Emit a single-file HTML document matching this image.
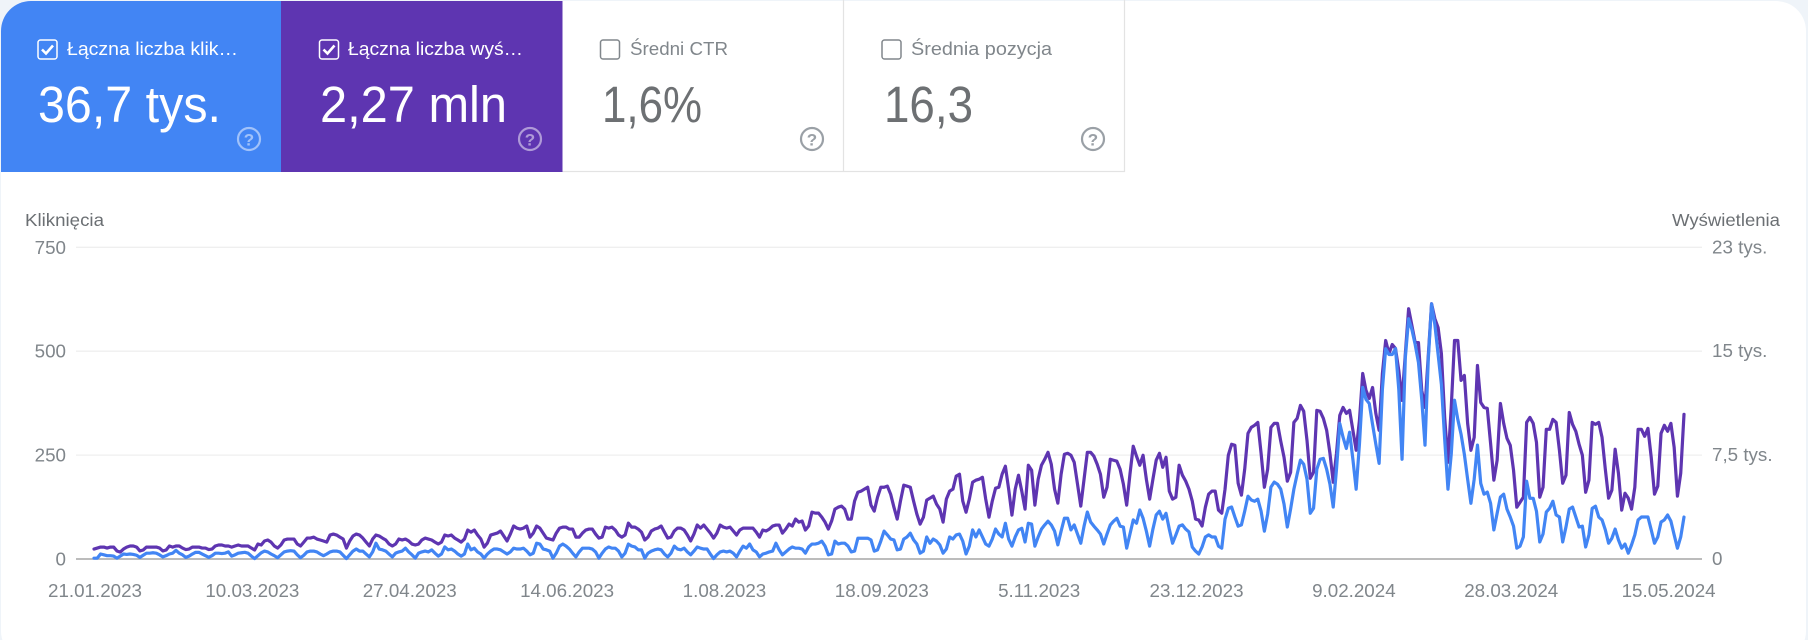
<!DOCTYPE html>
<html lang="pl">
<head>
<meta charset="utf-8">
<title>Skuteczność w wyszukiwarce</title>
<style>
html,body{margin:0;padding:0;width:1808px;height:640px;overflow:hidden;background:#eff4f9;}
svg{display:block;position:absolute;left:0;top:0;}
text{font-family:"Liberation Sans",sans-serif;}
.tick{font-size:18.8px;fill:#80868b;}
.title{font-size:17.5px;fill:#6b6f73;}
.lab{font-size:18px;}
.val{font-size:51px;}
</style>
</head>
<body>
<svg id="chart" width="1808" height="640" viewBox="0 0 1808 640" xmlns="http://www.w3.org/2000/svg">
  <rect x="1" y="1" width="1805" height="660" rx="30" ry="30" fill="#ffffff"/>

  <g>
    <path d="M1 172V31A30 30 0 0 1 31 1H281V172Z" fill="#4285f4"/>
    <rect x="38" y="40" width="19" height="19" rx="2.5" fill="none" stroke="#fff" stroke-width="1.5"/>
    <path d="M42 49.5l4 4 7-8" fill="none" stroke="#fff" stroke-width="2.6"/>
    <text class="lab" x="67" y="55" fill="#fff" textLength="171" lengthAdjust="spacingAndGlyphs">Łączna liczba klik…</text>
    <text class="val" x="38" y="122" fill="#fff" textLength="183" lengthAdjust="spacingAndGlyphs">36,7 tys.</text>
    <circle cx="249" cy="139" r="11" fill="none" stroke="#fff" stroke-opacity=".5" stroke-width="2.2"/>
    <text x="249" y="145.500" text-anchor="middle" font-size="17" font-weight="bold" fill="#fff" fill-opacity=".5">?</text>
  </g>

  <g>
    <rect x="281" y="1" width="281.5" height="171" fill="#5e35b1"/>
    <rect x="319.5" y="40" width="19" height="19" rx="2.5" fill="none" stroke="#fff" stroke-width="1.5"/>
    <path d="M323.5 49.5l4 4 7-8" fill="none" stroke="#fff" stroke-width="2.6"/>
    <text class="lab" x="348" y="55" fill="#fff" textLength="175" lengthAdjust="spacingAndGlyphs">Łączna liczba wyś…</text>
    <text class="val" x="320" y="122" fill="#fff" textLength="187" lengthAdjust="spacingAndGlyphs">2,27 mln</text>
    <circle cx="530" cy="139" r="11" fill="none" stroke="#fff" stroke-opacity=".5" stroke-width="2.2"/>
    <text x="530" y="145.500" text-anchor="middle" font-size="17" font-weight="bold" fill="#fff" fill-opacity=".5">?</text>
  </g>

  <g>
    <rect x="600.5" y="40" width="19" height="19" rx="2.5" fill="none" stroke="#80868b" stroke-width="1.5"/>
    <text class="lab" x="630" y="55" fill="#80868b" textLength="98" lengthAdjust="spacingAndGlyphs">Średni CTR</text>
    <text class="val" x="602" y="122" fill="#6d7073" textLength="100" lengthAdjust="spacingAndGlyphs">1,6%</text>
    <circle cx="812" cy="139" r="11" fill="none" stroke="#9aa0a6" stroke-width="2.2"/>
    <text x="812" y="145.500" text-anchor="middle" font-size="17" font-weight="bold" fill="#9aa0a6">?</text>
  </g>

  <g>
    <rect x="882" y="40" width="19" height="19" rx="2.5" fill="none" stroke="#80868b" stroke-width="1.5"/>
    <text class="lab" x="911" y="55" fill="#80868b" textLength="141" lengthAdjust="spacingAndGlyphs">Średnia pozycja</text>
    <text class="val" x="884" y="122" fill="#6d7073" textLength="89" lengthAdjust="spacingAndGlyphs">16,3</text>
    <circle cx="1093" cy="139" r="11" fill="none" stroke="#9aa0a6" stroke-width="2.2"/>
    <text x="1093" y="145.500" text-anchor="middle" font-size="17" font-weight="bold" fill="#9aa0a6">?</text>
  </g>
  <path d="M562.5 171.5H1124.5V0M843.5 0V171.5" fill="none" stroke="#e3e3e3" stroke-width="1.2"/>

  <text class="title" x="25" y="226" textLength="79" lengthAdjust="spacingAndGlyphs">Kliknięcia</text>
  <text class="title" x="1672" y="226" textLength="108" lengthAdjust="spacingAndGlyphs">Wyświetlenia</text>

  <g id="grid"></g>
  <g id="axes"></g>
  <g id="series"></g>
</svg>

<script>
// Weekly rows, Saturday to Friday, starting 21.01.2023.
const clicks = [
2,2,12,10,8,8,7,
2,7,12,11,12,11,9,
4,9,14,14,15,14,10,
5,8,12,14,21,14,10,
4,7,12,16,16,12,8,
4,8,14,14,13,14,17,
7,10,14,15,16,14,7,
1,8,15,19,17,12,8,
3,10,17,19,20,19,10,
3,9,17,19,19,17,12,
8,12,17,19,19,17,9,
1,10,19,24,19,19,12,
5,17,38,24,22,19,12,
5,14,17,19,26,17,10,
2,14,17,19,17,22,14,
7,12,29,22,24,19,12,
7,12,36,22,26,17,12,
2,12,19,24,24,22,17,
12,17,26,24,24,26,19,
10,14,38,36,24,22,19,
2,14,31,36,31,24,14,
5,17,26,26,26,24,17,
2,14,24,29,26,26,19,
5,14,36,31,29,22,22,
2,14,19,22,24,22,12,
5,14,31,24,22,26,17,
10,19,29,26,24,24,12,
1,10,17,19,17,19,14,
5,19,31,26,36,22,17,
5,12,14,17,19,38,22,
10,17,24,29,26,26,24,
14,29,36,36,38,43,31,
10,12,43,36,38,38,31,
17,19,50,50,50,50,46,
19,22,43,67,58,48,46,
22,24,48,53,62,46,36,
14,19,53,38,48,43,34,
14,24,53,48,58,60,43,
12,31,70,53,70,53,36,
31,48,72,60,53,86,48,
31,53,70,74,41,86,84,
31,53,72,82,91,82,67,
34,67,98,98,70,82,60,
38,79,113,89,79,70,60,
36,60,82,91,98,79,77,
26,60,94,86,118,98,67,
31,72,106,115,96,110,72,
38,58,79,82,72,65,29,
19,12,29,53,58,53,53,
31,26,96,122,125,101,79,
82,115,151,142,139,144,115,
67,108,173,185,180,168,132,
77,120,168,204,238,228,192,
110,122,216,240,242,216,180,
125,216,326,293,266,305,240,
168,276,413,384,374,324,276,
230,408,506,492,492,506,408,
240,485,578,552,516,473,384,
274,480,614,564,492,420,288,
168,252,382,336,300,252,192,
134,192,274,182,156,161,134,
70,110,149,156,120,101,79,
26,31,53,187,146,146,115,
41,60,113,122,139,106,101,
41,77,120,125,101,77,79,
29,58,122,127,101,94,70,
38,50,72,46,26,36,14,
34,58,94,101,101,101,70,
38,53,89,94,106,91,58,
26,53,101
];
const impressions = [
720,790,860,860,790,860,860,
580,500,720,860,940,940,860,
580,650,860,860,860,860,790,
580,650,940,860,940,940,790,
680,720,860,860,860,790,790,
680,720,940,1010,1010,940,940,
860,940,1010,940,940,940,790,
650,1080,1010,1300,1370,1220,940,
790,1010,1370,1440,1440,1440,1080,
940,1220,1510,1510,1580,1440,1370,
1300,1220,1730,1800,1730,1580,1440,
790,1300,1660,1800,1730,1510,1220,
940,1440,1730,1660,1510,1370,1080,
940,1080,1440,1370,1440,1300,1080,
1010,1080,1370,1510,1440,1370,1220,
1080,1220,1730,1660,1730,1510,1370,
1220,1440,2090,1940,2090,1730,1440,
860,1150,1730,1800,1870,2020,1660,
1300,1800,2380,2230,2160,2230,2380,
1580,1870,2380,2230,1870,1510,1440,
1370,1870,2230,2300,2300,2160,2160,
1580,1580,1870,2090,2160,2160,1800,
1510,1580,2300,2230,2300,2090,1730,
1580,1730,2590,2300,2300,2160,1940,
1370,1580,2020,2160,2230,2380,1940,
1510,1580,2020,2230,2230,2090,1730,
1300,1800,2450,2230,2450,2160,1870,
1510,1870,2450,2300,2230,2300,2020,
1730,2090,2230,2230,2230,2230,1940,
1580,2090,2020,2160,2380,2450,2450,
1870,2160,2520,2380,2880,2660,2740,
2090,2380,3380,3310,3310,3020,2660,
2160,2740,3600,3740,3820,3600,2880,
2880,4180,4820,4900,5040,5180,3890,
3460,4460,5180,5180,5260,4680,3740,
2880,4180,5330,5260,5180,4180,3240,
2520,3020,4250,4390,4540,3960,3600,
2660,4320,4900,5040,5980,6120,4180,
3380,4320,5540,5690,5760,5900,4320,
3020,4180,5110,5180,6120,6700,5040,
3170,5040,6050,4900,3600,6770,6410,
3890,5760,6770,7200,7700,6840,5040,
4030,6120,7560,7630,7490,6980,5400,
3820,5760,7700,7700,7420,6840,6120,
4460,5180,7200,7130,7060,6480,5400,
3890,6120,8140,7420,6770,7490,5760,
4320,5760,7130,7630,6620,7340,4900,
4320,4460,6770,6050,5620,5040,4180,
2880,2810,2380,3740,4680,4900,4900,
3530,3310,5040,7490,8280,8210,5470,
4610,6480,9070,9500,9650,9860,7630,
5180,6480,9500,9790,9790,8500,7340,
5620,6260,9860,10150,11090,10660,8570,
5830,6260,10730,10660,10150,9290,7630,
5540,7630,10370,10940,10510,10730,9290,
7850,10010,13390,12170,11590,12380,10510,
9290,13390,15770,14830,15480,15190,13610,
11450,14830,18070,16850,15620,15620,12170,
10940,14690,18430,17350,16700,14830,10220,
6980,10940,15770,15770,12890,13250,9790,
7850,8780,13970,11300,10940,10870,8350,
5690,7130,11230,9790,8710,8210,6410,
3740,4100,4460,9860,10220,9790,8420,
4460,5180,9360,9360,10080,9860,7850,
5470,6050,10580,9720,9220,8280,7490,
4820,5690,9860,9720,9860,8780,6480,
4390,4970,7920,6190,3530,4750,4390,
3600,5180,9360,9360,8860,9430,7340,
4680,5260,9070,9650,9220,9790,8060,
4540,6190,10440
];
const xTickLabels = ["21.01.2023","10.03.2023","27.04.2023","14.06.2023","1.08.2023","18.09.2023","5.11.2023","23.12.2023","9.02.2024","28.03.2024","15.05.2024"];
const xTickDays = [0,48,96,144,192,240,288,336,384,432,480];
const leftTickValues = [0,250,500,750];
const leftTickLabels = ["0","250","500","750"];
const rightTickValues = [0,7500,15000,22500];
const rightTickLabels = ["0","7,5 tys.","15 tys.","23 tys."];
const leftMax = 750;
const rightMax = 22500;

const NS = "http://www.w3.org/2000/svg";
const plot = {left:76, right:1702, top:247.3, bottom:559, firstX:94, lastX:1684};
function xScale(i){ return plot.firstX + i*(plot.lastX-plot.firstX)/(clicks.length-1); }
function yLeft(v){ return plot.bottom - v/leftMax*(plot.bottom-plot.top); }
function yRight(v){ return plot.bottom - v/rightMax*(plot.bottom-plot.top); }
function make(tag, parent, attrs){
  const el = document.createElementNS(NS, tag);
  for (const k in attrs) el.setAttribute(k, attrs[k]);
  parent.appendChild(el);
  return el;
}
const grid = document.getElementById("grid");
const axes = document.getElementById("axes");
const series = document.getElementById("series");

leftTickValues.forEach(function(v, i){
  const y = yLeft(v);
  const line = make("line", grid, {x1:plot.left, x2:plot.right, y1:y, y2:y, stroke: v===0 ? "#a6a6a6" : "#efefef", "stroke-width": v===0 ? 1.6 : 1.3});
  
  
  const t = make("text", axes, {x:66, y:y+6.5, "text-anchor":"end", "class":"tick"});
  
  
  t.textContent = leftTickLabels[i];
});
rightTickValues.forEach(function(v, i){
  const t = make("text", axes, {x:1712, y:yRight(v)+6, "class":"tick"});
  
  
  t.textContent = rightTickLabels[i];
});
xTickLabels.forEach(function(label, i){
  const t = make("text", axes, {x:xScale(xTickDays[i])+1, y:597, "text-anchor":"middle", "class":"tick"});
  
  
  t.textContent = label;
});
function points(values, yFn){
  return values.map(function(v, i){ return xScale(i).toFixed(2)+","+yFn(v).toFixed(2); }).join(" ");
}
const impressionsLine = make("polyline", series, {points:points(impressions, yRight), fill:"none", stroke:"#5e35b1", "stroke-width":3.2, "stroke-linejoin":"round", "stroke-linecap":"round"});


const clicksLine = make("polyline", series, {points:points(clicks, yLeft), fill:"none", stroke:"#4285f4", "stroke-width":3.2, "stroke-linejoin":"round", "stroke-linecap":"round"});


</script>
</body>
</html>
